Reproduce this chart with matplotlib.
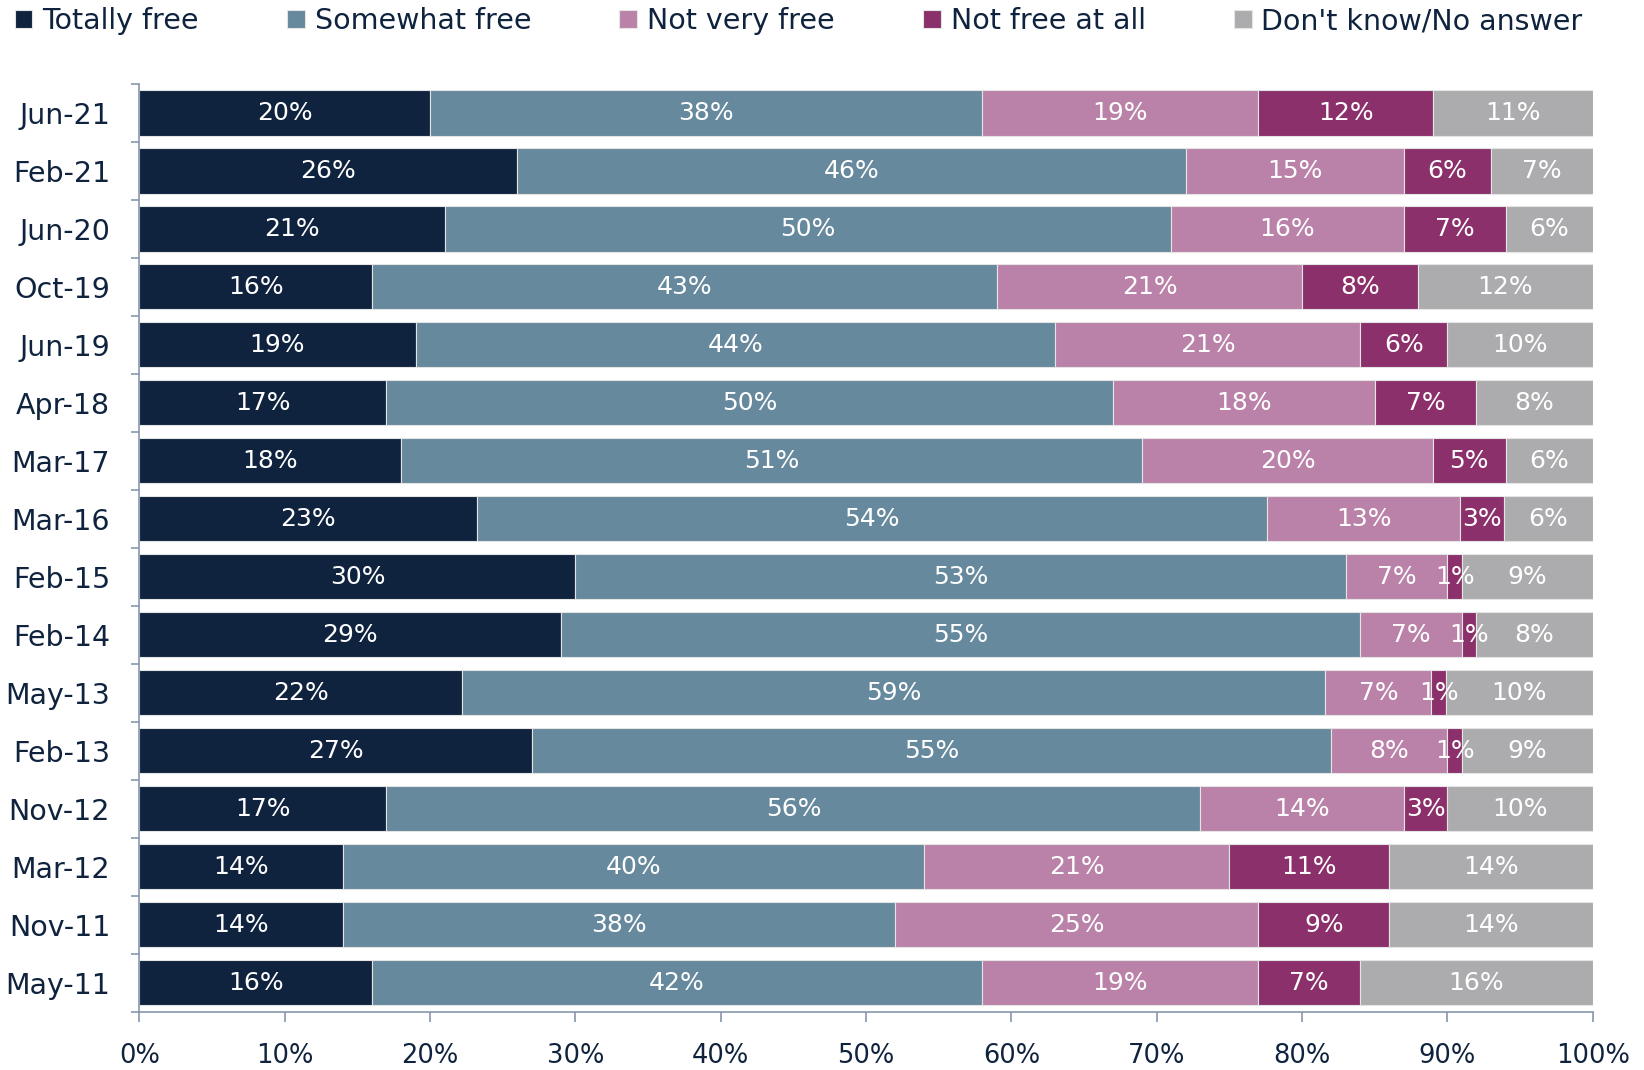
#!/usr/bin/env python3
import numpy as np
import matplotlib
matplotlib.use('Agg')
import matplotlib.pyplot as plt
from matplotlib.ticker import FixedLocator

plt.rcParams['font.family'] = ['DejaVu Sans']

# survey waves, top row first
dates = ['Jun-21', 'Feb-21', 'Jun-20', 'Oct-19', 'Jun-19', 'Apr-18', 'Mar-17', 'Mar-16',
         'Feb-15', 'Feb-14', 'May-13', 'Feb-13', 'Nov-12', 'Mar-12', 'Nov-11', 'May-11']

totally_free = [20, 26, 21, 16, 19, 17, 18, 23.2, 30, 29, 22.2, 27, 17, 14, 14, 16]
somewhat_free = [38, 46, 50, 43, 44, 50, 51, 54.4, 53, 55, 59.4, 55, 56, 40, 38, 42]
not_very_free = [19, 15, 16, 21, 21, 18, 20, 13.3, 7, 7, 7.3, 8, 14, 21, 25, 19]
not_free_at_all = [12, 6, 7, 8, 6, 7, 5, 3.0, 1, 1, 1.0, 1, 3, 11, 9, 7]
dont_know = [11, 7, 6, 12, 10, 8, 6, 6.1, 9, 8, 10.1, 9, 10, 14, 14, 16]

series_names = ['Totally free', 'Somewhat free', 'Not very free', 'Not free at all',
                "Don't know/No answer"]
series = [totally_free, somewhat_free, not_very_free, not_free_at_all, dont_know]
colors = ['#0f233e', '#66899d', '#ba82a8', '#8b306b', '#acacae']

text_color = '#0f233e'
spine_color = '#8796ad'

fig = plt.figure(figsize=(16.44, 10.70), dpi=100)
ax = fig.add_axes([139.4 / 1644, 1 - 1011.8 / 1070, (1592.7 - 139.4) / 1644, (1011.8 - 83.9) / 1070])

y = np.arange(len(dates))
left = np.zeros(len(dates))
handles = []
for name, vals, col in zip(series_names, series, colors):
    vals = np.array(vals, dtype=float)
    bars = ax.barh(y, vals, left=left, height=0.78, color=col, edgecolor='#e4e4e4',
                   linewidth=0.8, label=name)
    handles.append(bars)
    for yi, l, v in zip(y, left, vals):
        ax.text(l + v / 2, yi, f'{v:.0f}%', ha='center', va='center',
                color='white', fontsize=18)
    left += vals

ax.set_xlim(0, 100)
ax.set_ylim(len(dates) - 0.5, -0.5)

ax.set_yticks(y)
ax.set_yticklabels(dates)
ax.yaxis.set_minor_locator(FixedLocator(np.arange(-0.5, len(dates), 1)))
ax.tick_params(axis='y', which='major', length=0, pad=21, labelsize=20.5, labelcolor=text_color)
ax.tick_params(axis='y', which='minor', length=6, width=1.2, color=spine_color)

ax.set_xticks(np.arange(0, 101, 10))
ax.set_xticklabels([f'{t}%' for t in range(0, 101, 10)])
ax.tick_params(axis='x', which='major', length=7.5, width=1.2, color=spine_color,
               pad=15, labelsize=18.5, labelcolor=text_color)

for side in ['top', 'right']:
    ax.spines[side].set_visible(False)
for side in ['left', 'bottom']:
    ax.spines[side].set_color(spine_color)
    ax.spines[side].set_linewidth(1.2)

leg = fig.legend(handles=handles, labels=series_names, loc='center left',
                 bbox_to_anchor=(14.7 / 1644, 1 - 21 / 1070), ncol=5, frameon=False,
                 fontsize=20.5, handlelength=0.62, handleheight=0.62, handletextpad=0.35,
                 columnspacing=3.1, borderpad=0, borderaxespad=0)
for t in leg.get_texts():
    t.set_color(text_color)

plt.savefig('out.png', dpi=100)
plt.close()
